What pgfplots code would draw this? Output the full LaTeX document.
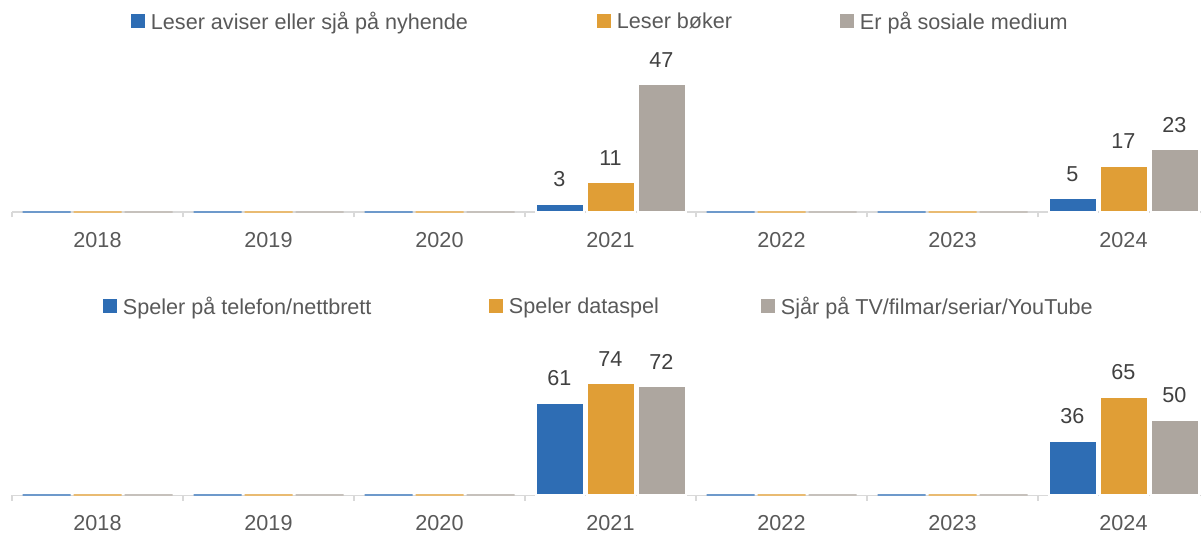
\documentclass[border=0pt]{standalone}
\usepackage{fontspec}
\setmainfont{Liberation Sans}
\usepackage{pgfplots}
\pgfplotsset{compat=1.18}
\definecolor{cb}{HTML}{2E6DB4}
\definecolor{co}{HTML}{E09E36}
\definecolor{cg}{HTML}{ADA69F}
\definecolor{ax}{HTML}{D9D9D9}
\definecolor{txt}{HTML}{595959}
\definecolor{lab}{HTML}{404040}
\newcommand{\fs}{\fontsize{10.8}{13}\selectfont}
\pgfplotsset{
 mybase/.style={
  ybar, scale only axis, width=598.5pt, xmin=-0.5, xmax=6.5, ymin=0,
  bar width=24pt,
  /pgf/number format/assume math mode=true,
  axis x line*=bottom, axis y line=none,
  x axis line style={draw=ax, line width=0.75pt, -},
  xtick={0,...,6}, xticklabels={2018,2019,2020,2021,2022,2023,2024},
  major x tick style={draw=none},
  minor xtick={-0.5,0.5,...,6.5},
  minor tick length=2.75pt, xtick align=outside,
  minor x tick style={draw=ax, line width=0.75pt},
  xticklabel style={font=\fs, text=txt, inner sep=0pt, yshift=-5.5pt},
  legend style={draw=none, fill=none, inner sep=0pt, outer sep=0pt, column sep=0pt, font=\fs, text=txt, nodes={inner sep=0pt}},
  legend columns=3,
  clip=false,
 },
 bb/.style={fill=#1, draw=white, line width=1pt,
   legend image code/.code={\fill[#1] (0pt,-2.5pt) rectangle (6pt,3.5pt);},
   nodes near coords, nodes near coords style={font=\fs, text=lab, inner sep=0pt, anchor=south, yshift=8pt}},
 zb/.style={draw=#1!70, fill=none, line width=1pt, forget plot},
}
\begin{document}
\begin{tikzpicture}[x=1pt,y=1pt]
\useasboundingbox (0,0) rectangle (600.5,266.5);
\begin{axis}[mybase, at={(6pt,160.5pt)}, anchor=south west, height=68pt, ymax=50,
  legend style={at={(axis description cs:0.0994,1.397)}, anchor=west}]
\addplot[bb=cb, bar shift=-25.5pt] coordinates {(3,3) (6,5)};
\addlegendentry{\hspace{3pt}\makebox[223pt][l]{Leser aviser eller sjå på nyhende}}
\addplot[bb=co, bar shift=0pt] coordinates {(3,11) (6,17)};
\addlegendentry{\hspace{3pt}\makebox[111.5pt][l]{Leser bøker}}
\addplot[bb=cg, bar shift=25.5pt] coordinates {(3,47) (6,23)};
\addlegendentry{\hspace{3pt}Er på sosiale medium}
\addplot[zb=cb, bar shift=-25.5pt] coordinates {(0,0) (1,0) (2,0) (4,0) (5,0)};
\addplot[zb=co, bar shift=0pt] coordinates {(0,0) (1,0) (2,0) (4,0) (5,0)};
\addplot[zb=cg, bar shift=25.5pt] coordinates {(0,0) (1,0) (2,0) (4,0) (5,0)};
\end{axis}
\begin{axis}[mybase, at={(6pt,18.75pt)}, anchor=south west, height=60.6pt, ymax=80,
  legend style={at={(axis description cs:0.0760,1.552)}, anchor=west}]
\addplot[bb=cb, bar shift=-25.5pt] coordinates {(3,61) (6,36)};
\addlegendentry{\hspace{3pt}\makebox[183pt][l]{Speler på telefon/nettbrett}}
\addplot[bb=co, bar shift=0pt] coordinates {(3,74) (6,65)};
\addlegendentry{\hspace{3pt}\makebox[126pt][l]{Speler dataspel}}
\addplot[bb=cg, bar shift=25.5pt] coordinates {(3,72) (6,50)};
\addlegendentry{\hspace{3pt}Sjår på TV/filmar/seriar/YouTube}
\addplot[zb=cb, bar shift=-25.5pt] coordinates {(0,0) (1,0) (2,0) (4,0) (5,0)};
\addplot[zb=co, bar shift=0pt] coordinates {(0,0) (1,0) (2,0) (4,0) (5,0)};
\addplot[zb=cg, bar shift=25.5pt] coordinates {(0,0) (1,0) (2,0) (4,0) (5,0)};
\end{axis}
\end{tikzpicture}
\end{document}
